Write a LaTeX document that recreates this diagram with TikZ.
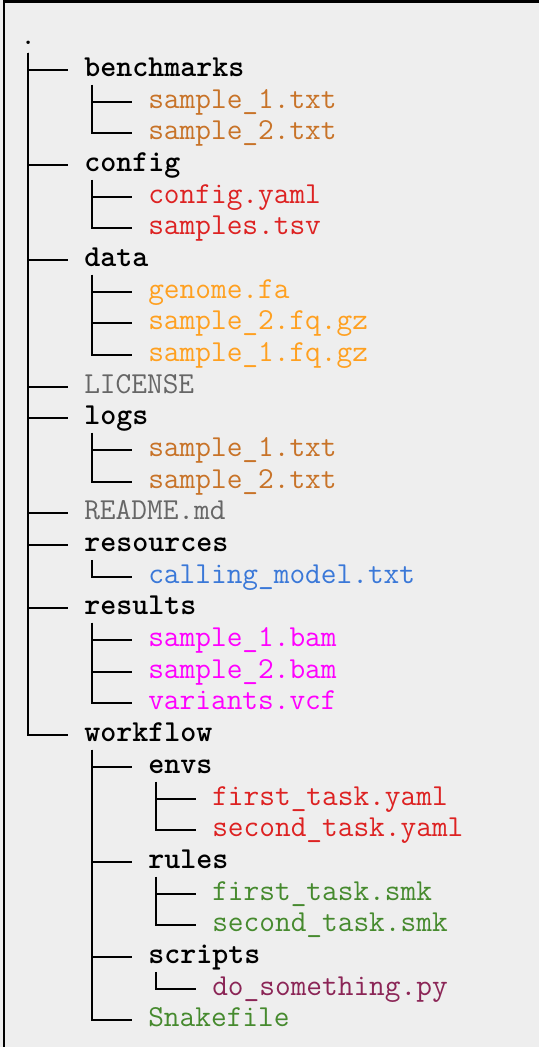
\documentclass[tikz,border=0pt]{standalone}
\usepackage{fontspec}
\usepackage{xcolor}
\definecolor{panelgray}{HTML}{EEEEEE}
\definecolor{txtbrown}{HTML}{C87328}
\definecolor{cfgred}{HTML}{DD2222}
\definecolor{dataorange}{HTML}{FFA020}
\definecolor{plaingray}{HTML}{666666}
\definecolor{resblue}{HTML}{3A78D8}
\definecolor{bammagenta}{HTML}{FF00FF}
\definecolor{smkgreen}{HTML}{468A2E}
\definecolor{pymaroon}{HTML}{8B2556}

\begin{document}
\begin{tikzpicture}[x=0.75pt,y=-0.75pt,
    entry/.style={anchor=west, inner xsep=12pt, inner ysep=2pt,
        text height=14pt, text depth=4pt,
        font=\ttfamily\fontsize{22.86pt}{26pt}\selectfont},
    folder/.style={entry, font=\ttfamily\bfseries\fontsize{22.86pt}{26pt}\selectfont},
    branch/.style={line width=1.4pt, black}]

        % Фон и рамка
        \useasboundingbox (0,0) rectangle (539,1047);
        \fill[panelgray] (0,0) rectangle (539,1047);
        \draw[line width=2pt] (4,1047) -- (4,1.3) -- (539,1.3);

        % Корень
        \node[entry] (dot) at (4,38) {.};

        % Каталоги первого уровня
        \node[folder] (bench)     at (68,70)  {benchmarks};
        \node[folder] (config)    at (68,165) {config};
        \node[folder] (data)      at (68,260) {data};
        \node[entry, plaingray] (license) at (68,387) {LICENSE};
        \node[folder] (logs)      at (68,418) {logs};
        \node[entry, plaingray] (readme)  at (68,513) {README.md};
        \node[folder] (resources) at (68,545) {resources};
        \node[folder] (results)   at (68,608) {results};
        \node[folder] (workflow)  at (68,735) {workflow};

        % Файлы
        \node[entry, txtbrown] (bench1) at (132,102) {sample\_1.txt};
        \node[entry, txtbrown] (bench2) at (132,133) {sample\_2.txt};
        \node[entry, cfgred] (cfgyaml) at (132,197) {config.yaml};
        \node[entry, cfgred] (cfgtsv)  at (132,228) {samples.tsv};
        \node[entry, dataorange] (genome) at (132,292) {genome.fa};
        \node[entry, dataorange] (fq2)    at (132,323) {sample\_2.fq.gz};
        \node[entry, dataorange] (fq1)    at (132,355) {sample\_1.fq.gz};
        \node[entry, txtbrown] (log1) at (132,450) {sample\_1.txt};
        \node[entry, txtbrown] (log2) at (132,482) {sample\_2.txt};
        \node[entry, resblue] (model) at (132,577) {calling\_model.txt};
        \node[entry, bammagenta] (bam1) at (132,640) {sample\_1.bam};
        \node[entry, bammagenta] (bam2) at (132,672) {sample\_2.bam};
        \node[entry, bammagenta] (vcf)  at (132,703) {variants.vcf};

        % workflow
        \node[folder] (envs)    at (132,767) {envs};
        \node[entry, cfgred] (envfirst)  at (196,799) {first\_task.yaml};
        \node[entry, cfgred] (envsecond) at (196,830) {second\_task.yaml};
        \node[folder] (rules)   at (132,862) {rules};
        \node[entry, smkgreen] (smkfirst)  at (196,894) {first\_task.smk};
        \node[entry, smkgreen] (smksecond) at (196,925) {second\_task.smk};
        \node[folder] (scripts) at (132,957) {scripts};
        \node[entry, pymaroon] (script) at (196,989) {do\_something.py};
        \node[entry, smkgreen] (snakefile) at (132,1020) {Snakefile};

        % Ветви дерева
        \foreach \p/\c in {dot/bench, dot/config, dot/data, dot/license, dot/logs,
                dot/readme, dot/resources, dot/results, dot/workflow,
                bench/bench1, bench/bench2, config/cfgyaml, config/cfgtsv,
                data/genome, data/fq2, data/fq1, logs/log1, logs/log2,
                resources/model, results/bam1, results/bam2, results/vcf,
                workflow/envs, workflow/rules, workflow/scripts, workflow/snakefile,
                envs/envfirst, envs/envsecond, rules/smkfirst, rules/smksecond,
                scripts/script}
            \draw[branch] ([xshift=18pt]\p.south west) |- (\c);
    \end{tikzpicture}
\end{document}
